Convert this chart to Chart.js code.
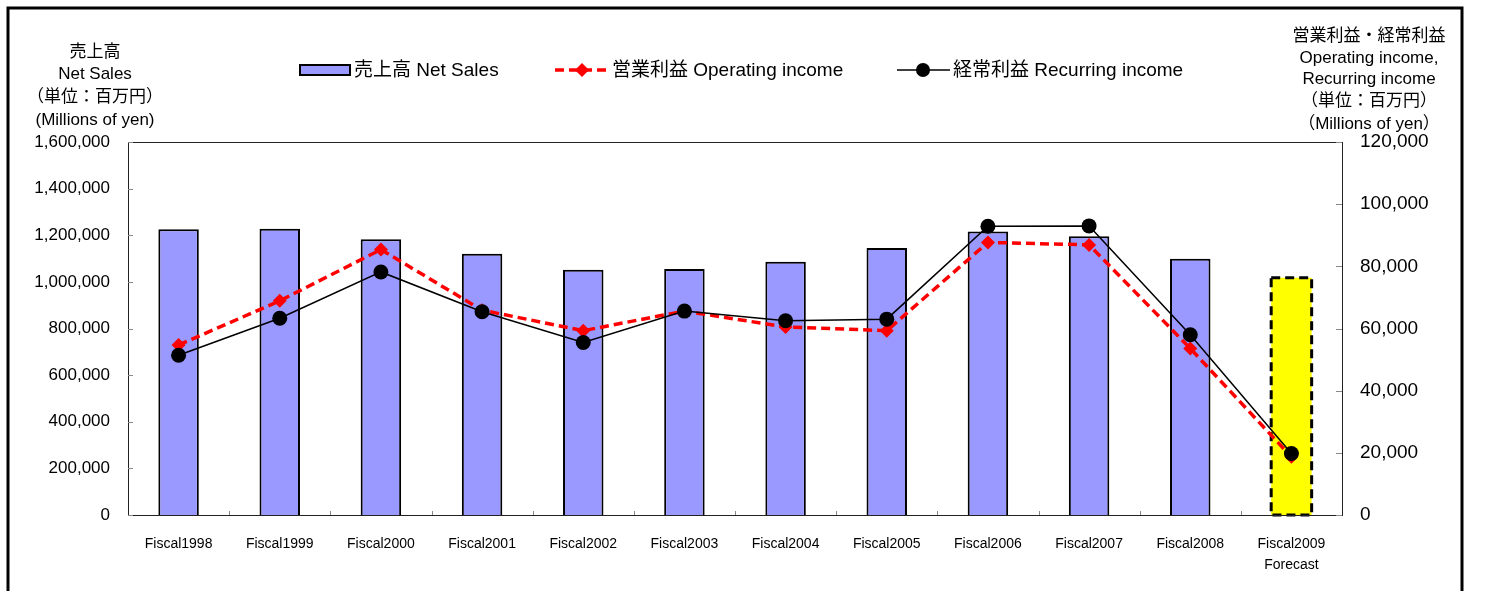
<!DOCTYPE html>
<html>
<head>
<meta charset="utf-8">
<script src="https://cdn.jsdelivr.net/npm/chart.js@4"></script>
<style>
  html, body { margin: 0; padding: 0; background: #fff; }
  canvas { display: block; }
</style>
</head>
<body>
<canvas id="chart" width="1485" height="591"></canvas>
<script>
// Net sales / income chart

const CATEGORIES = [
  "Fiscal1998", "Fiscal1999", "Fiscal2000", "Fiscal2001", "Fiscal2002", "Fiscal2003",
  "Fiscal2004", "Fiscal2005", "Fiscal2006", "Fiscal2007", "Fiscal2008", ["Fiscal2009", "Forecast"],
];
const NET_SALES = [1226000, 1228000, 1183000, 1121000, 1052000, 1055000, 1086000, 1145000, 1216000, 1196000, 1099000, 1018000];
const OPERATING_INCOME = [54700, 68900, 85400, 65900, 59300, 65600, 60500, 59300, 87700, 86900, 53600, 18700];
const RECURRING_INCOME = [51400, 63300, 78200, 65400, 55500, 65600, 62500, 63000, 92900, 93000, 58000, 19800];

const LEFT_TITLE = ["売上高", "Net Sales", "（単位：百万円）", "(Millions of yen)"];
const RIGHT_TITLE = ["営業利益・経常利益", "Operating income,", "Recurring income", "（単位：百万円）", "（Millions of yen）"];
const LEGEND_LABELS = ["売上高 Net Sales", "営業利益 Operating income", "経常利益 Recurring income"];

const FONT = '"Liberation Sans", Arial, "Noto Sans CJK JP", sans-serif';
const BAR_BLUE = "#9999ff";
const FORECAST_YELLOW = "#ffff00";
const LAST = NET_SALES.length - 1;

const fmt = (v) => v.toLocaleString("en-US");

// ===== Decorations: frame, titles, legend =====
const decorations = {
  id: "decorations",
  beforeDraw(chart) {
    const ctx = chart.ctx;
    ctx.save();
    ctx.fillStyle = "#fff";
    ctx.fillRect(0, 0, chart.width, chart.height);
    ctx.strokeStyle = "#000";
    ctx.lineWidth = 3;
    ctx.strokeRect(8, 8, 1454, 620);
    ctx.restore();
  },
  afterDraw(chart) {
    const ctx = chart.ctx;
    const area = chart.chartArea;
    ctx.save();

    // axis titles
    ctx.fillStyle = "#000";
    ctx.font = `17px ${FONT}`;
    ctx.textAlign = "center";
    ctx.textBaseline = "middle";
    [52, 74, 97, 120].forEach((y, i) => ctx.fillText(LEFT_TITLE[i], 95, y));
    [36, 58, 79, 101, 124].forEach((y, i) => ctx.fillText(RIGHT_TITLE[i], 1369, y));

    // legend
    const ly = 70;
    ctx.font = `19px ${FONT}`;
    ctx.textAlign = "left";
    ctx.fillStyle = BAR_BLUE;
    ctx.fillRect(300, ly - 5, 50, 10);
    ctx.strokeStyle = "#000";
    ctx.lineWidth = 2;
    ctx.strokeRect(300, ly - 5, 50, 10);
    ctx.fillStyle = "#000";
    ctx.fillText(LEGEND_LABELS[0], 354, ly + 1);

    ctx.strokeStyle = "#ff0000";
    ctx.lineWidth = 3.5;
    ctx.setLineDash([9, 5]);
    ctx.beginPath(); ctx.moveTo(555, ly); ctx.lineTo(610, ly); ctx.stroke();
    ctx.setLineDash([]);
    ctx.fillStyle = "#ff0000";
    ctx.beginPath();
    ctx.moveTo(582, ly - 7); ctx.lineTo(589, ly); ctx.lineTo(582, ly + 7); ctx.lineTo(575, ly);
    ctx.closePath(); ctx.fill();
    ctx.fillStyle = "#000";
    ctx.fillText(LEGEND_LABELS[1], 612, ly + 1);

    ctx.strokeStyle = "#000";
    ctx.lineWidth = 1.5;
    ctx.beginPath(); ctx.moveTo(897, ly); ctx.lineTo(950, ly); ctx.stroke();
    ctx.beginPath(); ctx.arc(923, ly, 7, 0, Math.PI * 2); ctx.fill();
    ctx.fillText(LEGEND_LABELS[2], 953, ly + 1);

    // plot border and inward ticks
    ctx.strokeStyle = "#222";
    ctx.lineWidth = 1;
    ctx.strokeRect(area.left + 0.5, area.top + 0.5, area.right - area.left, area.bottom - area.top);
    const y = chart.scales.y, y1 = chart.scales.y1, x = chart.scales.x;
    ctx.strokeStyle = "#888";
    ctx.beginPath();
    y.ticks.forEach((t) => {
      const py = Math.round(y.getPixelForValue(t.value)) + 0.5;
      ctx.moveTo(area.left, py); ctx.lineTo(area.left + 5, py);
    });
    y1.ticks.forEach((t) => {
      const py = Math.round(y1.getPixelForValue(t.value)) + 0.5;
      ctx.moveTo(area.right - 6, py); ctx.lineTo(area.right, py);
    });
    for (let i = 1; i < CATEGORIES.length; i++) {
      const px = Math.round((x.getPixelForValue(i - 1) + x.getPixelForValue(i)) / 2) + 0.5;
      ctx.moveTo(px, area.bottom); ctx.lineTo(px, area.bottom - 4);
    }
    ctx.stroke();
    ctx.restore();
  },
  afterDatasetDraw(chart, args) {
    if (args.index !== 0) return;
    // dashed outline for the forecast bar
    const el = chart.getDatasetMeta(0).data[LAST];
    const { x, y, base, width } = el.getProps(["x", "y", "base", "width"], true);
    const ctx = chart.ctx;
    ctx.save();
    ctx.strokeStyle = "#000";
    ctx.lineWidth = 3;
    ctx.setLineDash([9, 5]);
    ctx.strokeRect(x - width / 2, y, width, base - y);
    ctx.restore();
  },
};

new Chart(document.getElementById("chart"), {
  data: {
    labels: CATEGORIES,
    datasets: [
      {
        type: "bar",
        label: LEGEND_LABELS[0],
        data: NET_SALES,
        yAxisID: "y",
        backgroundColor: NET_SALES.map((_, i) => (i === LAST ? FORECAST_YELLOW : BAR_BLUE)),
        borderColor: "#000",
        borderWidth: NET_SALES.map((_, i) => (i === LAST ? 0 : 2)),
        barPercentage: 0.4,
        categoryPercentage: 1,
        order: 3,
      },
      {
        type: "line",
        label: LEGEND_LABELS[1],
        data: OPERATING_INCOME,
        yAxisID: "y1",
        borderColor: "#ff0000",
        borderWidth: 3.5,
        borderDash: [9, 5],
        pointStyle: "rectRot",
        pointRadius: 7,
        pointBackgroundColor: "#ff0000",
        pointBorderWidth: 0,
        tension: 0,
        order: 2,
      },
      {
        type: "line",
        label: LEGEND_LABELS[2],
        data: RECURRING_INCOME,
        yAxisID: "y1",
        borderColor: "#000",
        borderWidth: 1.5,
        pointStyle: "circle",
        pointRadius: 7.5,
        pointBackgroundColor: "#000",
        pointBorderWidth: 0,
        tension: 0,
        order: 1,
      },
    ],
  },
  options: {
    responsive: false,
    animation: false,
    layout: { padding: { top: 142, left: 0, right: 0, bottom: 0 } },
    plugins: { legend: { display: false }, tooltip: { enabled: false } },
    scales: {
      x: {
        grid: { display: false, drawTicks: false },
        border: { display: false },
        ticks: { color: "#000", font: { family: FONT, size: 14, lineHeight: 1.5 }, padding: 19, maxRotation: 0, autoSkip: false },
        afterFit: (s) => { s.height = 76; },
      },
      y: {
        position: "left",
        min: 0,
        max: 1600000,
        grid: { display: false, drawTicks: false },
        border: { display: false },
        ticks: { stepSize: 200000, color: "#000", font: { family: FONT, size: 17 }, padding: 18, callback: fmt },
        afterFit: (s) => { s.width = 128; },
      },
      y1: {
        position: "right",
        min: 0,
        max: 120000,
        grid: { display: false, drawTicks: false },
        border: { display: false },
        ticks: { stepSize: 20000, color: "#000", font: { family: FONT, size: 19 }, padding: 18, callback: fmt },
        afterFit: (s) => { s.width = 143; },
      },
    },
  },
  plugins: [decorations],
});
</script>
</body>
</html>
